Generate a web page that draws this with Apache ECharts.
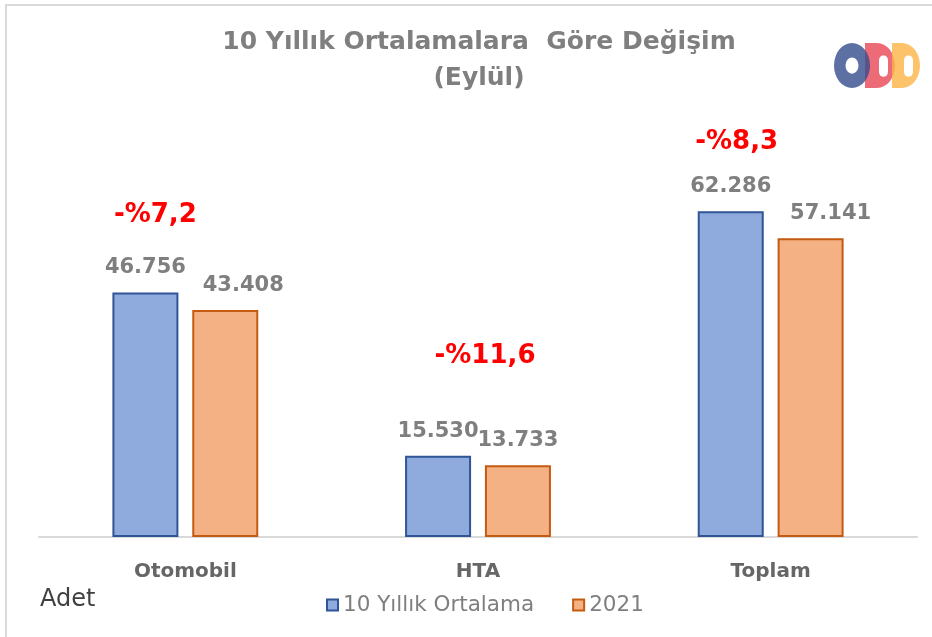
<!DOCTYPE html>
<html><head><meta charset="utf-8">
<script src="https://cdn.jsdelivr.net/npm/echarts@6/dist/echarts.min.js"></script>
<style>html,body{margin:0;padding:0;background:#fff}#c{width:932px;height:637px}</style>
</head><body><div id="c"></div>
<script>
const categories = ['Otomobil', 'HTA', 'Toplam'];
const avg10 = [46756, 15530, 62286];
const y2021 = [43408, 13733, 57141];
const seriesNames = ['10 Yıllık Ortalama', '2021'];
const titleText = '10 Yıllık Ortalamalara  Göre Değişim\n(Eylül)';
const unitText = 'Adet';

// layout-only label offsets (pixels)
const pctOffsets = [[-30, -77], [7, -100], [-34, -69]];
const orangeLabelOffsets = [[18, 0], [0, 0], [20, 0]];

const fmt = v => v.toLocaleString('de-DE');
const pct = avg10.map((a, i) => (y2021[i] / a - 1) * 100);
const fmtPct = p => (p < 0 ? '-' : '') + '%' + Math.abs(p).toFixed(1).replace('.', ',');

const FONT = 'DejaVu Sans';
const H = Math.PI / 2;
function dShape(x, w, color) {
  return [
    { type: 'rect', shape: { x: x, y: 0, width: w, height: 36 }, style: { fill: color } },
    { type: 'sector', shape: { cx: x + w, cy: 18, r: 18, r0: 0, startAngle: -H, endAngle: H }, style: { fill: color } }
  ];
}
const chart = echarts.init(document.getElementById('c'));
chart.setOption({
  animation: false,
  backgroundColor: '#fff',
  title: {
    text: titleText, left: 474, top: 19, textAlign: 'center',
    textStyle: { fontFamily: FONT, fontSize: 25, fontWeight: 'bold', color: '#7f7f7f', lineHeight: 36 }
  },
  legend: {
    data: seriesNames, left: 321, top: 589, itemWidth: 11, itemHeight: 11, itemGap: 38, icon: 'rect',
    textStyle: { fontFamily: FONT, fontSize: 21.5, color: '#7f7f7f' }
  },
  graphic: [
    { type: 'rect', shape: { x: 6, y: 5, width: 940, height: 640 }, style: { fill: 'none', stroke: '#d9d9d9', lineWidth: 2 } },
    { type: 'text', x: 40, y: 588, style: { text: unitText, font: '24px "DejaVu Sans"', fill: '#404040' } },
    { type: 'group', x: 834, y: 43, scaleY: 1.25, children: dShape(31, 12, 'rgba(232,70,85,0.8)').concat(
      dShape(58, 10, 'rgba(253,180,70,0.8)'), [
      { type: 'ring', shape: { cx: 18, cy: 18, r: 18, r0: 6.5 }, style: { fill: 'rgba(52,76,140,0.8)' } },
      { type: 'rect', shape: { x: 45, y: 10, width: 9, height: 17, r: 4 }, style: { fill: '#fff' } },
      { type: 'rect', shape: { x: 70, y: 10, width: 9, height: 17, r: 4 }, style: { fill: '#fff' } }
    ]) }
  ],
  grid: { left: 39, right: 15, top: 171, bottom: 100 },
  xAxis: {
    type: 'category', data: categories,
    axisLine: { lineStyle: { color: '#d9d9d9', width: 2 } },
    axisTick: { show: false },
    axisLabel: { fontFamily: FONT, fontSize: 20, fontWeight: 'bold', color: '#666666', margin: 25 }
  },
  yAxis: { type: 'value', min: 0, max: 70000, show: false, splitLine: { show: false } },
  series: [
    {
      name: seriesNames[0], type: 'bar', data: avg10, barWidth: 66, barGap: '21%',
      itemStyle: { color: '#8faadc', borderColor: '#2f5597', borderWidth: 2 },
      label: { show: true, position: 'top', distance: 14, formatter: p => fmt(p.value),
        fontFamily: FONT, fontSize: 21, fontWeight: 'bold', color: '#7f7f7f' }
    },
    {
      name: seriesNames[1], type: 'bar', data: y2021.map((v, i) => ({
        value: v, label: { offset: orangeLabelOffsets[i] } })),
      barWidth: 66,
      itemStyle: { color: '#f4b183', borderColor: '#c55a11', borderWidth: 2 },
      label: { show: true, position: 'top', distance: 14, formatter: p => fmt(p.value),
        fontFamily: FONT, fontSize: 21, fontWeight: 'bold', color: '#7f7f7f' }
    },
    {
      type: 'scatter', symbolSize: 0, silent: true, legendHoverLink: false,
      itemStyle: { opacity: 1 },
      data: avg10.map((a, i) => ({ value: [i, a], label: { offset: pctOffsets[i] } })),
      label: { show: true, position: 'inside', formatter: p => fmtPct(pct[p.dataIndex]),
        fontFamily: FONT, fontSize: 26, fontWeight: 'bold', color: '#ff0000', opacity: 1 },
      tooltip: { show: false }
    }
  ]
});
</script></body></html>
